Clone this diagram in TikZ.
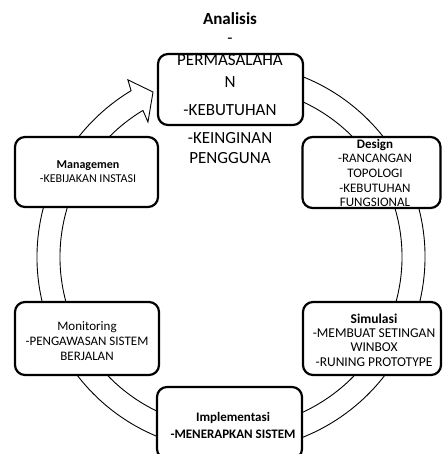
\documentclass[tikz,border=0pt]{standalone}
\usepackage{fontspec}
\setmainfont{Carlito}
\usetikzlibrary{calc}
\tikzset{
  box/.style={draw=black, line width=2.2pt, rounded corners=10pt, fill=white, inner sep=0pt},
  ring/.style={draw=black, line width=0.9pt, fill=white, line join=miter},
  txt/.style={inner sep=0pt, align=center, text=black},
  big/.style={txt, font=\fontsize{17}{20}\selectfont},
}
\begin{document}
\begin{tikzpicture}[x=1pt, y=1pt]
\useasboundingbox (0,-454) rectangle (442,0);
\coordinate (C) at (231,-257);
% circular arrow band
\draw[ring] ($(C)+(80:194)$) arc[start angle=80, end angle=-239, radius=194]
  -- ($(C)+(120.2:205)$) -- ($(C)+(115.3:182.5)$) -- ($(C)+(121.6:158.5)$)
  -- ($(C)+(121:171)$) arc[start angle=-239, end angle=80, radius=171] -- cycle;
% boxes
\node[box, minimum width=145pt, minimum height=71pt] (analisis) at (230.5,-89.5) {};
\node[box, minimum width=138pt, minimum height=71pt] (design) at (371.5,-172.5) {};
\node[box, minimum width=143pt, minimum height=70pt] (managemen) at (86.5,-172) {};
\node[box, minimum width=144pt, minimum height=73pt] (monitoring) at (87,-338.5) {};
\node[box, minimum width=138pt, minimum height=73pt] (simulasi) at (372,-338.5) {};
\node[box, minimum width=145pt, minimum height=72pt] (implementasi) at (229.5,-423) {};
% Analisis texts
\node[big, font=\fontsize{17}{20}\selectfont\bfseries] (ta) at (230,-19) {Analisis};
\node[big] (tdash) at (230,-41) {-};
\node[big] (tperm) at (230,-60) {PERMASALAHA};
\node[big] (tn) at (230,-82) {N};
\node[big] (tkeb) at (230,-110) {-KEBUTUHAN};
\node[big] (tkein) at (230,-138) {-KEINGINAN};
\node[big] (tpeng) at (230,-158) {PENGGUNA};
% other texts
\node[txt, font=\fontsize{13}{14.7}\selectfont] (tdesign) at (375,-173)
  {\textbf{Design}\\-RANCANGAN\\TOPOLOGI\\-KEBUTUHAN\\FUNGSIONAL};
\node[txt, font=\fontsize{12}{14}\selectfont] (tman) at (88,-172)
  {\textbf{Managemen}\\-KEBIJAKAN INSTASI};
\node[txt, font=\fontsize{13}{15}\selectfont] (tmon) at (87,-341)
  {Monitoring\\-PENGAWASAN SISTEM\\BERJALAN};
\node[txt, font=\fontsize{13.5}{14.3}\selectfont] (tsim) at (374,-340)
  {\textbf{Simulasi}\\-MEMBUAT SETINGAN\\WINBOX\\-RUNING PROTOTYPE};
\node[txt, font=\fontsize{13}{17}\selectfont\bfseries] (timp) at (233,-425)
  {Implementasi\\-MENERAPKAN SISTEM};
\end{tikzpicture}
\end{document}
